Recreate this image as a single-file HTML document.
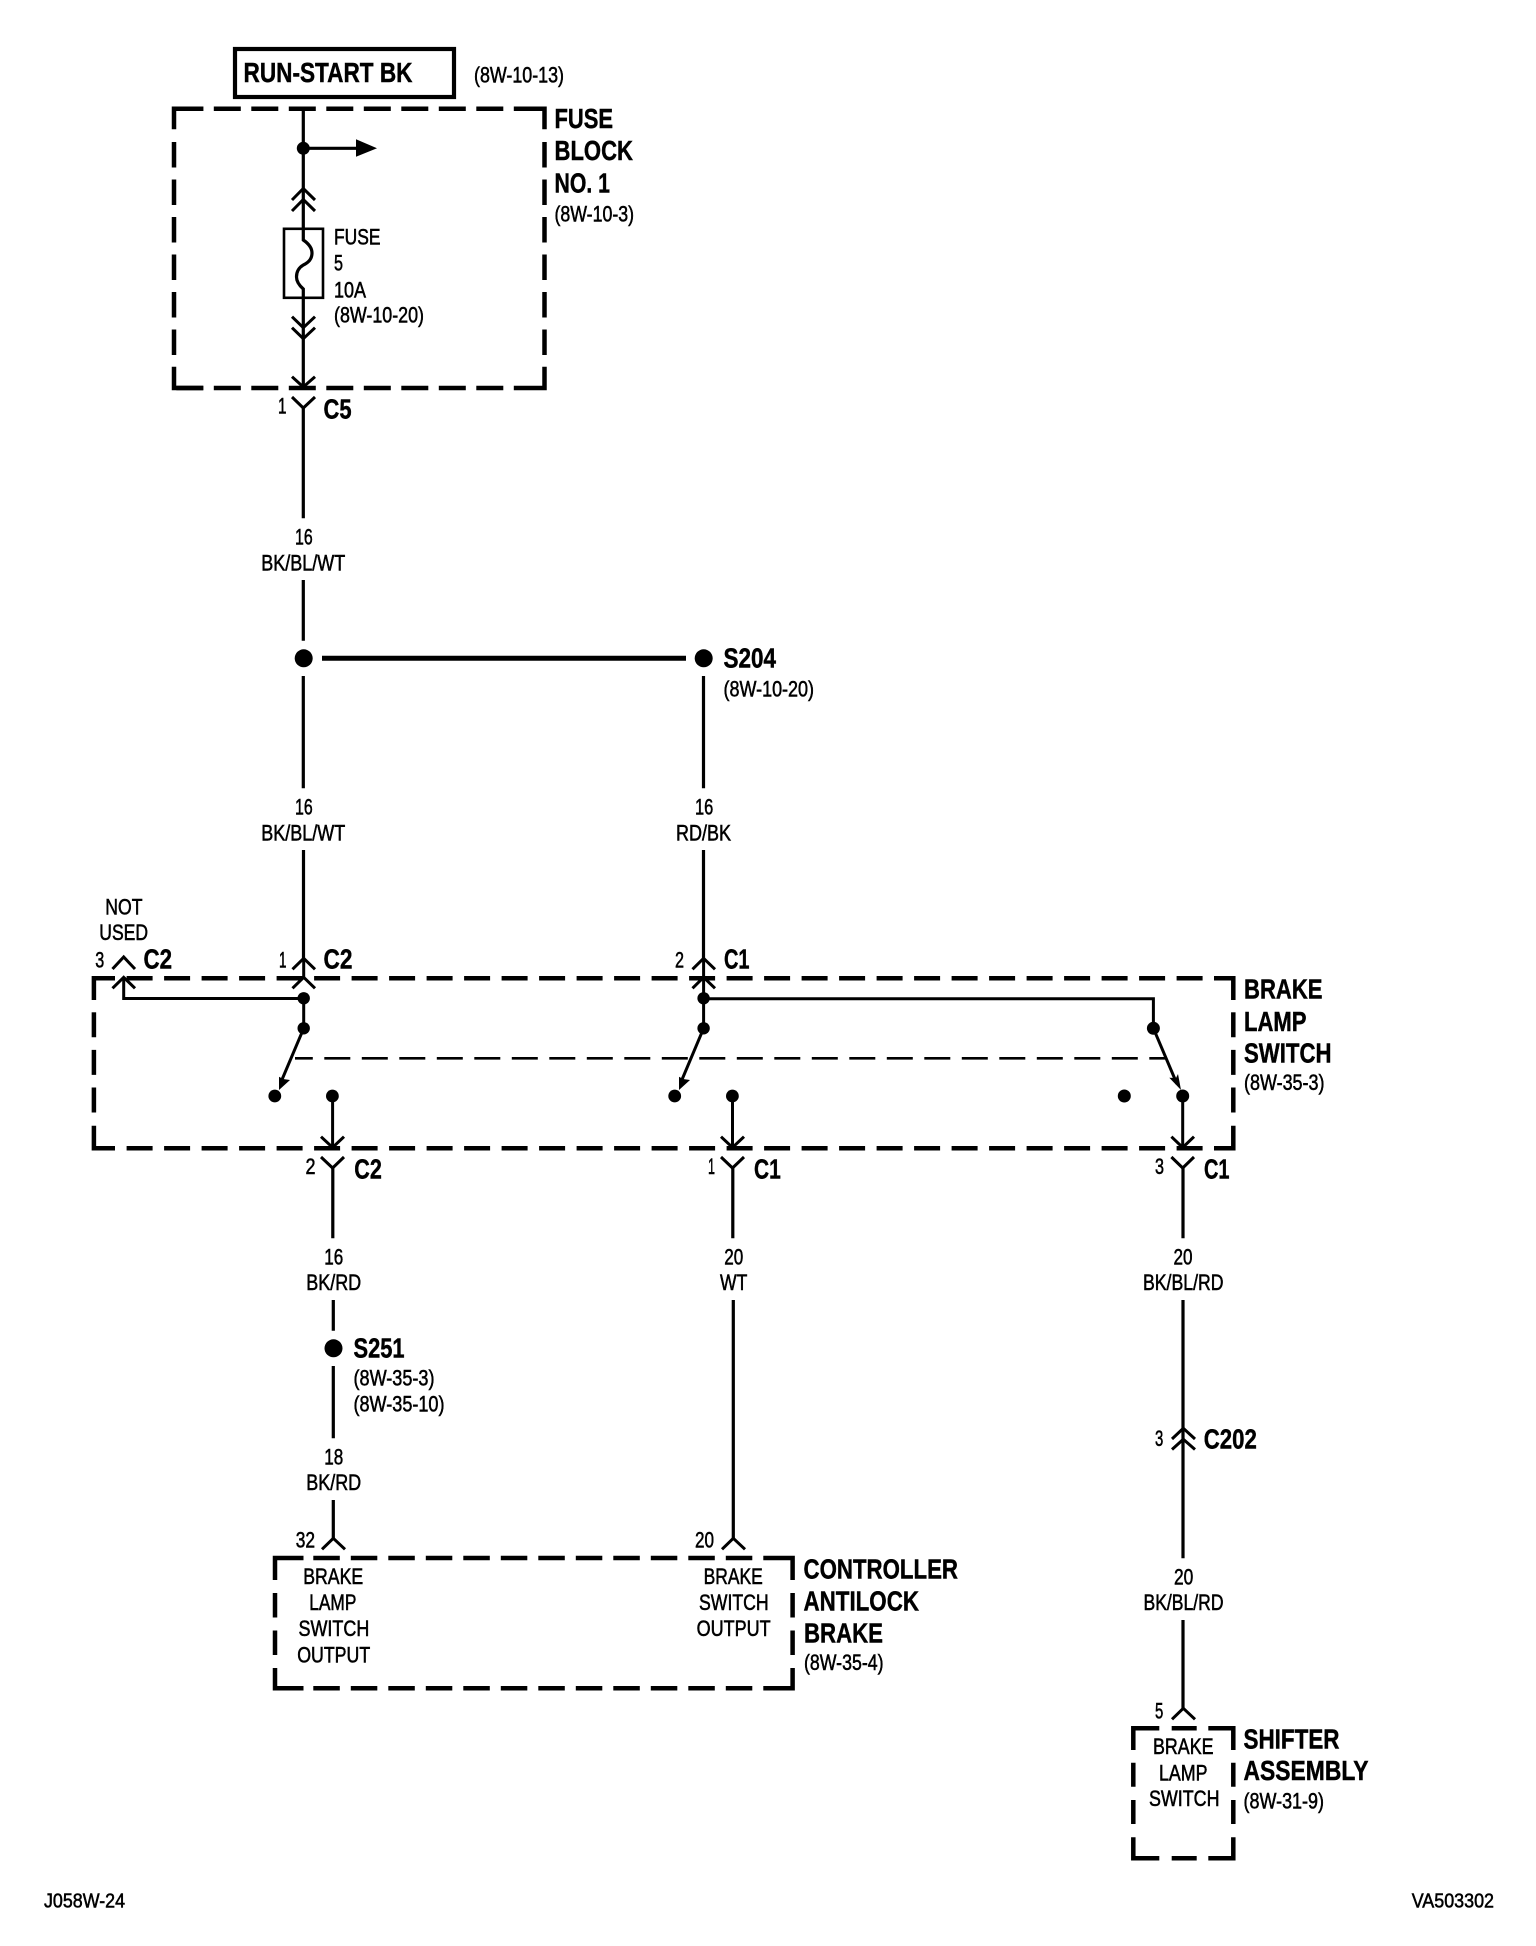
<!DOCTYPE html>
<html><head><meta charset="utf-8"><style>
html,body{margin:0;padding:0;background:#fff}
svg{display:block}
text{font-family:"Liberation Sans",Arial,sans-serif;fill:#000;stroke:#000}
.r{font-size:22px;stroke-width:.55}
.b{font-size:27.5px;font-weight:bold;stroke-width:.45}
.w{stroke:#000;stroke-width:3.2;fill:none}
.t{stroke:#000;stroke-width:3;fill:none}
.d{stroke:#000;stroke-width:4.5;fill:none}
</style></head><body>
<svg xmlns="http://www.w3.org/2000/svg" width="1536" height="1946" viewBox="0 0 1536 1946">
<rect width="1536" height="1946" fill="#fff"/>

<!-- RUN-START -->
<rect x="235" y="49" width="219" height="48" fill="none" stroke="#000" stroke-width="4.2"/>
<text class="b" x="243.5" y="82" textLength="169" lengthAdjust="spacingAndGlyphs">RUN-START BK</text>
<text class="r" x="474" y="82.7" textLength="90" lengthAdjust="spacingAndGlyphs">(8W-10-13)</text>

<!-- Fuse block box -->
<path class="d" d="M176.3 108.7H514" stroke-dasharray="27 10.5"/>
<path class="d" d="M176.3 388H514" stroke-dasharray="27 10.5"/>
<path class="d" d="M174 142V366" stroke-dasharray="25.5 12"/>
<path class="d" d="M544.5 142V366" stroke-dasharray="25.5 12"/>
<path class="d" d="M174 129.3V108.7H203.3M514 108.7H544.5V129.3M174 366.7V388H203.3M514 388H544.5V366.7"/>

<!-- Fuse block inner -->
<path class="w" d="M303.3 108V240Q312 246 312 253Q312 261 303.3 265Q296.5 269 296.5 277Q296.5 283 303.3 289V387"/>
<circle cx="303.3" cy="148.3" r="6.5"/>
<path class="w" d="M303.3 148.3H358"/>
<polygon points="356,139.3 377,148.3 356,156.7"/>
<path class="t" d="M292 200L303.3 188.5L315 200M292 211L303.3 199.5L315 211"/>
<rect x="284" y="228.8" width="39" height="69" fill="none" stroke="#000" stroke-width="2.6"/>
<path class="t" d="M292 316.7L303.3 327.7L315 316.7M292 327.7L303.3 338.7L315 327.7"/>
<path class="t" d="M292 376.7L303.3 387L315 376.7"/>
<path class="t" d="M292 397L303.3 408L315 397"/>
<path class="w" d="M303.3 408V518.3"/>
<text class="r" x="334" y="244.7" textLength="46.5" lengthAdjust="spacingAndGlyphs">FUSE</text>
<text class="r" x="334" y="270.7" textLength="9" lengthAdjust="spacingAndGlyphs">5</text>
<text class="r" x="334" y="297.3" textLength="32" lengthAdjust="spacingAndGlyphs">10A</text>
<text class="r" x="334" y="322.7" textLength="90" lengthAdjust="spacingAndGlyphs">(8W-10-20)</text>
<text class="b" x="554.5" y="128" textLength="58.5" lengthAdjust="spacingAndGlyphs">FUSE</text>
<text class="b" x="554.5" y="160" textLength="78.5" lengthAdjust="spacingAndGlyphs">BLOCK</text>
<text class="b" x="554.5" y="192.7" textLength="55.5" lengthAdjust="spacingAndGlyphs">NO. 1</text>
<text class="r" x="554.5" y="221.7" textLength="79.5" lengthAdjust="spacingAndGlyphs">(8W-10-3)</text>
<text class="r" x="278" y="413.3" textLength="8.5" lengthAdjust="spacingAndGlyphs">1</text>
<text class="b" x="323.5" y="418.3" textLength="28" lengthAdjust="spacingAndGlyphs">C5</text>

<!-- Upper wire labels -->
<text class="r" x="295" y="544.3" textLength="17.7" lengthAdjust="spacingAndGlyphs">16</text>
<text class="r" x="261.2" y="570.7" textLength="84" lengthAdjust="spacingAndGlyphs">BK/BL/WT</text>
<path class="w" d="M303.3 580V640.7M303.3 676V788.3"/>
<circle cx="303.7" cy="658.3" r="9"/>
<path stroke="#000" stroke-width="5" d="M322 658.3H686"/>
<circle cx="703.7" cy="658.3" r="9"/>
<path class="w" d="M703.5 676V788.3"/>
<text class="b" x="723.5" y="667.3" textLength="52.5" lengthAdjust="spacingAndGlyphs">S204</text>
<text class="r" x="723.5" y="696.7" textLength="90.5" lengthAdjust="spacingAndGlyphs">(8W-10-20)</text>
<text class="r" x="295" y="814.3" textLength="17.7" lengthAdjust="spacingAndGlyphs">16</text>
<text class="r" x="261.2" y="840.7" textLength="84" lengthAdjust="spacingAndGlyphs">BK/BL/WT</text>
<text class="r" x="695" y="814.3" textLength="18.3" lengthAdjust="spacingAndGlyphs">16</text>
<text class="r" x="676" y="840.7" textLength="55" lengthAdjust="spacingAndGlyphs">RD/BK</text>
<path class="w" d="M303.5 850V958.3M703.5 850V958.3"/>

<!-- Switch top labels -->
<text class="r" x="105.3" y="914.3" textLength="37.2" lengthAdjust="spacingAndGlyphs">NOT</text>
<text class="r" x="99.3" y="940" textLength="48.7" lengthAdjust="spacingAndGlyphs">USED</text>
<text class="r" x="95.3" y="967.7" textLength="9" lengthAdjust="spacingAndGlyphs">3</text>
<text class="b" x="143.5" y="968.5" textLength="28.5" lengthAdjust="spacingAndGlyphs">C2</text>
<text class="r" x="279" y="967.7" textLength="7.5" lengthAdjust="spacingAndGlyphs">1</text>
<text class="b" x="323.5" y="968.5" textLength="28.9" lengthAdjust="spacingAndGlyphs">C2</text>
<text class="r" x="675" y="967.7" textLength="9" lengthAdjust="spacingAndGlyphs">2</text>
<text class="b" x="724" y="968.5" textLength="25.5" lengthAdjust="spacingAndGlyphs">C1</text>
<path class="t" d="M112.5 969L123.7 957L135 969M292.5 969.3L303.7 958.3L315 969.3M692.5 969.3L703.6 958.3L715 969.3"/>

<!-- Switch box -->
<path class="d" d="M126.6 978.3H1214" stroke-dasharray="26 11.5"/>
<path class="d" d="M126.6 1148.3H1214" stroke-dasharray="26 11.5"/>
<path class="d" d="M93.9 1012.3V1125" stroke-dasharray="25 12.6"/>
<path class="d" d="M1233.3 1012.3V1125" stroke-dasharray="25 12.6"/>
<path class="d" d="M115 978.3H93.9V1000M1214 978.3H1233.3V1000M93.9 1125.7V1148.3H115M1233.3 1125.7V1148.3H1214"/>

<!-- Switch internals -->
<path class="t" d="M112.5 988.3L123.7 977.3L135 988.3M292.5 988.3L303.7 977.3L315 988.3M692.5 988.3L703.6 977.3L715 988.3"/>
<path class="t" d="M123.7 978V998.5H303.7V1028.3M703.6 978V1028.3M703.6 998.7H1153.4V1028.3M303.7 958V978M703.6 958V978"/>
<circle cx="303.7" cy="998.3" r="6.2"/><circle cx="303.7" cy="1028.3" r="6.2"/>
<circle cx="703.6" cy="998.3" r="6.2"/><circle cx="703.6" cy="1028.3" r="6.2"/>
<circle cx="1153.4" cy="1028.3" r="6.5"/>
<path class="t" d="M303.7 1028.3L281 1082M703.6 1028.3L681 1082M1153.4 1028.3L1177 1084"/>
<polygon points="279,1090 279,1076.7 283,1079 290,1080"/>
<polygon points="679,1090 679,1076.7 683,1079 690,1080"/>
<polygon points="1181,1090 1178,1074 1176,1078 1169.3,1077.7"/>
<circle cx="274.8" cy="1096" r="6.4"/><circle cx="332.4" cy="1096" r="6.4"/>
<circle cx="674.7" cy="1096" r="6.4"/><circle cx="732.4" cy="1096" r="6.4"/>
<circle cx="1124.3" cy="1096" r="6.5"/><circle cx="1182.7" cy="1096" r="6.5"/>
<path stroke="#000" stroke-width="2.7" fill="none" stroke-dasharray="26 11.5" stroke-dashoffset="8.2" d="M295 1058.3H1165"/>
<path class="t" d="M332.6 1096V1148M732.5 1096V1148M1182.7 1096V1148"/>
<path class="t" d="M321 1136.7L332.6 1147.5L344 1136.7M721 1136.7L732.5 1147.5L744 1136.7M1171.4 1136.7L1182.7 1147.5L1194 1136.7"/>
<path class="t" d="M321 1157L332.6 1168L344 1157M721 1157L732.5 1168L744 1157M1171.4 1157L1182.7 1168L1194 1157"/>
<path class="w" d="M332.8 1168V1238.3M732.8 1168V1238.3M1183 1168V1238.3"/>
<text class="r" x="305.5" y="1174" textLength="10" lengthAdjust="spacingAndGlyphs">2</text>
<text class="b" x="354.3" y="1178.3" textLength="27.5" lengthAdjust="spacingAndGlyphs">C2</text>
<text class="r" x="708" y="1174" textLength="7" lengthAdjust="spacingAndGlyphs">1</text>
<text class="b" x="754" y="1178.3" textLength="26.7" lengthAdjust="spacingAndGlyphs">C1</text>
<text class="r" x="1155" y="1174" textLength="9" lengthAdjust="spacingAndGlyphs">3</text>
<text class="b" x="1204" y="1178.3" textLength="25.5" lengthAdjust="spacingAndGlyphs">C1</text>
<text class="b" x="1244" y="998.3" textLength="78.5" lengthAdjust="spacingAndGlyphs">BRAKE</text>
<text class="b" x="1244" y="1031" textLength="62.5" lengthAdjust="spacingAndGlyphs">LAMP</text>
<text class="b" x="1244" y="1062.7" textLength="87.5" lengthAdjust="spacingAndGlyphs">SWITCH</text>
<text class="r" x="1244" y="1090" textLength="80.5" lengthAdjust="spacingAndGlyphs">(8W-35-3)</text>

<!-- Lower wires -->
<text class="r" x="324.3" y="1264.3" textLength="19" lengthAdjust="spacingAndGlyphs">16</text>
<text class="r" x="306.2" y="1290" textLength="55" lengthAdjust="spacingAndGlyphs">BK/RD</text>
<path class="w" d="M333.3 1300V1330.7M333.3 1366V1438.3"/>
<circle cx="333.5" cy="1348.3" r="9"/>
<text class="b" x="353.5" y="1357.7" textLength="51" lengthAdjust="spacingAndGlyphs">S251</text>
<text class="r" x="353.5" y="1385.7" textLength="81" lengthAdjust="spacingAndGlyphs">(8W-35-3)</text>
<text class="r" x="353.5" y="1411.7" textLength="91" lengthAdjust="spacingAndGlyphs">(8W-35-10)</text>
<text class="r" x="324.3" y="1464.3" textLength="19" lengthAdjust="spacingAndGlyphs">18</text>
<text class="r" x="306.2" y="1490" textLength="55" lengthAdjust="spacingAndGlyphs">BK/RD</text>
<path class="w" d="M333.3 1500V1538.3M733.3 1300V1538.3"/>
<text class="r" x="724.3" y="1264.3" textLength="19" lengthAdjust="spacingAndGlyphs">20</text>
<text class="r" x="720" y="1290" textLength="27.3" lengthAdjust="spacingAndGlyphs">WT</text>
<text class="r" x="295.7" y="1547.7" textLength="19.3" lengthAdjust="spacingAndGlyphs">32</text>
<text class="r" x="695" y="1547.7" textLength="19" lengthAdjust="spacingAndGlyphs">20</text>
<path class="t" d="M322 1549.3L333.3 1538.3L345 1549.3M722 1549.3L733.3 1538.3L745 1549.3"/>

<!-- Controller box -->
<path class="d" d="M313.3 1558H765" stroke-dasharray="26.5 11"/>
<path class="d" d="M313.3 1688.3H765" stroke-dasharray="26.5 11"/>
<path class="d" d="M275 1593V1656" stroke-dasharray="24.5 13"/>
<path class="d" d="M792.6 1593V1656" stroke-dasharray="24.5 13"/>
<path class="d" d="M303.5 1558H275V1580M765 1558H792.6V1580M275 1668V1688.3H303.5M792.6 1668V1688.3H765"/>
<text class="r" x="303.2" y="1584" textLength="60" lengthAdjust="spacingAndGlyphs">BRAKE</text>
<text class="r" x="309.2" y="1610" textLength="47.2" lengthAdjust="spacingAndGlyphs">LAMP</text>
<text class="r" x="298.5" y="1636" textLength="70.8" lengthAdjust="spacingAndGlyphs">SWITCH</text>
<text class="r" x="297.2" y="1662.3" textLength="73" lengthAdjust="spacingAndGlyphs">OUTPUT</text>
<text class="r" x="703.6" y="1584" textLength="59.2" lengthAdjust="spacingAndGlyphs">BRAKE</text>
<text class="r" x="699" y="1610" textLength="69.7" lengthAdjust="spacingAndGlyphs">SWITCH</text>
<text class="r" x="696.6" y="1636" textLength="74" lengthAdjust="spacingAndGlyphs">OUTPUT</text>
<text class="b" x="803.5" y="1578.3" textLength="154.5" lengthAdjust="spacingAndGlyphs">CONTROLLER</text>
<text class="b" x="803.5" y="1610.7" textLength="115.5" lengthAdjust="spacingAndGlyphs">ANTILOCK</text>
<text class="b" x="804" y="1642.7" textLength="79" lengthAdjust="spacingAndGlyphs">BRAKE</text>
<text class="r" x="804" y="1670" textLength="79.5" lengthAdjust="spacingAndGlyphs">(8W-35-4)</text>

<!-- Right column -->
<text class="r" x="1173.5" y="1264.3" textLength="19" lengthAdjust="spacingAndGlyphs">20</text>
<text class="r" x="1143" y="1290" textLength="80.5" lengthAdjust="spacingAndGlyphs">BK/BL/RD</text>
<path class="w" d="M1183 1300V1558.3M1183 1620V1708.3"/>
<path class="t" d="M1172 1439L1183.3 1428.3L1195 1439M1172 1449.5L1183.3 1439.3L1195 1449.5"/>
<text class="r" x="1155" y="1446" textLength="8.3" lengthAdjust="spacingAndGlyphs">3</text>
<text class="b" x="1203.8" y="1448.3" textLength="53" lengthAdjust="spacingAndGlyphs">C202</text>
<text class="r" x="1174" y="1584.3" textLength="19.3" lengthAdjust="spacingAndGlyphs">20</text>
<text class="r" x="1143.5" y="1610" textLength="80" lengthAdjust="spacingAndGlyphs">BK/BL/RD</text>
<text class="r" x="1155" y="1718.3" textLength="8.3" lengthAdjust="spacingAndGlyphs">5</text>
<path class="t" d="M1172 1719.3L1183.3 1708.3L1195 1719.3"/>

<!-- Shifter box -->
<path class="d" d="M1159.3 1728.3H1133.3V1750M1208.3 1728.3H1233.3V1750M1133.3 1837.3V1858.3H1159.3M1233.3 1837.3V1858.3H1208.3M1171.7 1728.3H1196.7M1171.7 1858.3H1196.7M1133.3 1762.7V1786.7M1133.3 1800V1824M1233.3 1762.7V1786.7M1233.3 1800V1824"/>
<text class="r" x="1153" y="1754" textLength="60.5" lengthAdjust="spacingAndGlyphs">BRAKE</text>
<text class="r" x="1159" y="1780.7" textLength="48.5" lengthAdjust="spacingAndGlyphs">LAMP</text>
<text class="r" x="1149" y="1806" textLength="70.5" lengthAdjust="spacingAndGlyphs">SWITCH</text>
<text class="b" x="1243.5" y="1748.3" textLength="96" lengthAdjust="spacingAndGlyphs">SHIFTER</text>
<text class="b" x="1243.5" y="1780" textLength="125" lengthAdjust="spacingAndGlyphs">ASSEMBLY</text>
<text class="r" x="1243.5" y="1808.3" textLength="80.5" lengthAdjust="spacingAndGlyphs">(8W-31-9)</text>

<!-- Footer -->
<text class="r" x="44" y="1907.7" style="font-size:20px" textLength="81" lengthAdjust="spacingAndGlyphs">J058W-24</text>
<text class="r" x="1411.7" y="1907.7" style="font-size:20px" textLength="82.3" lengthAdjust="spacingAndGlyphs">VA503302</text>
</svg>
</body></html>
